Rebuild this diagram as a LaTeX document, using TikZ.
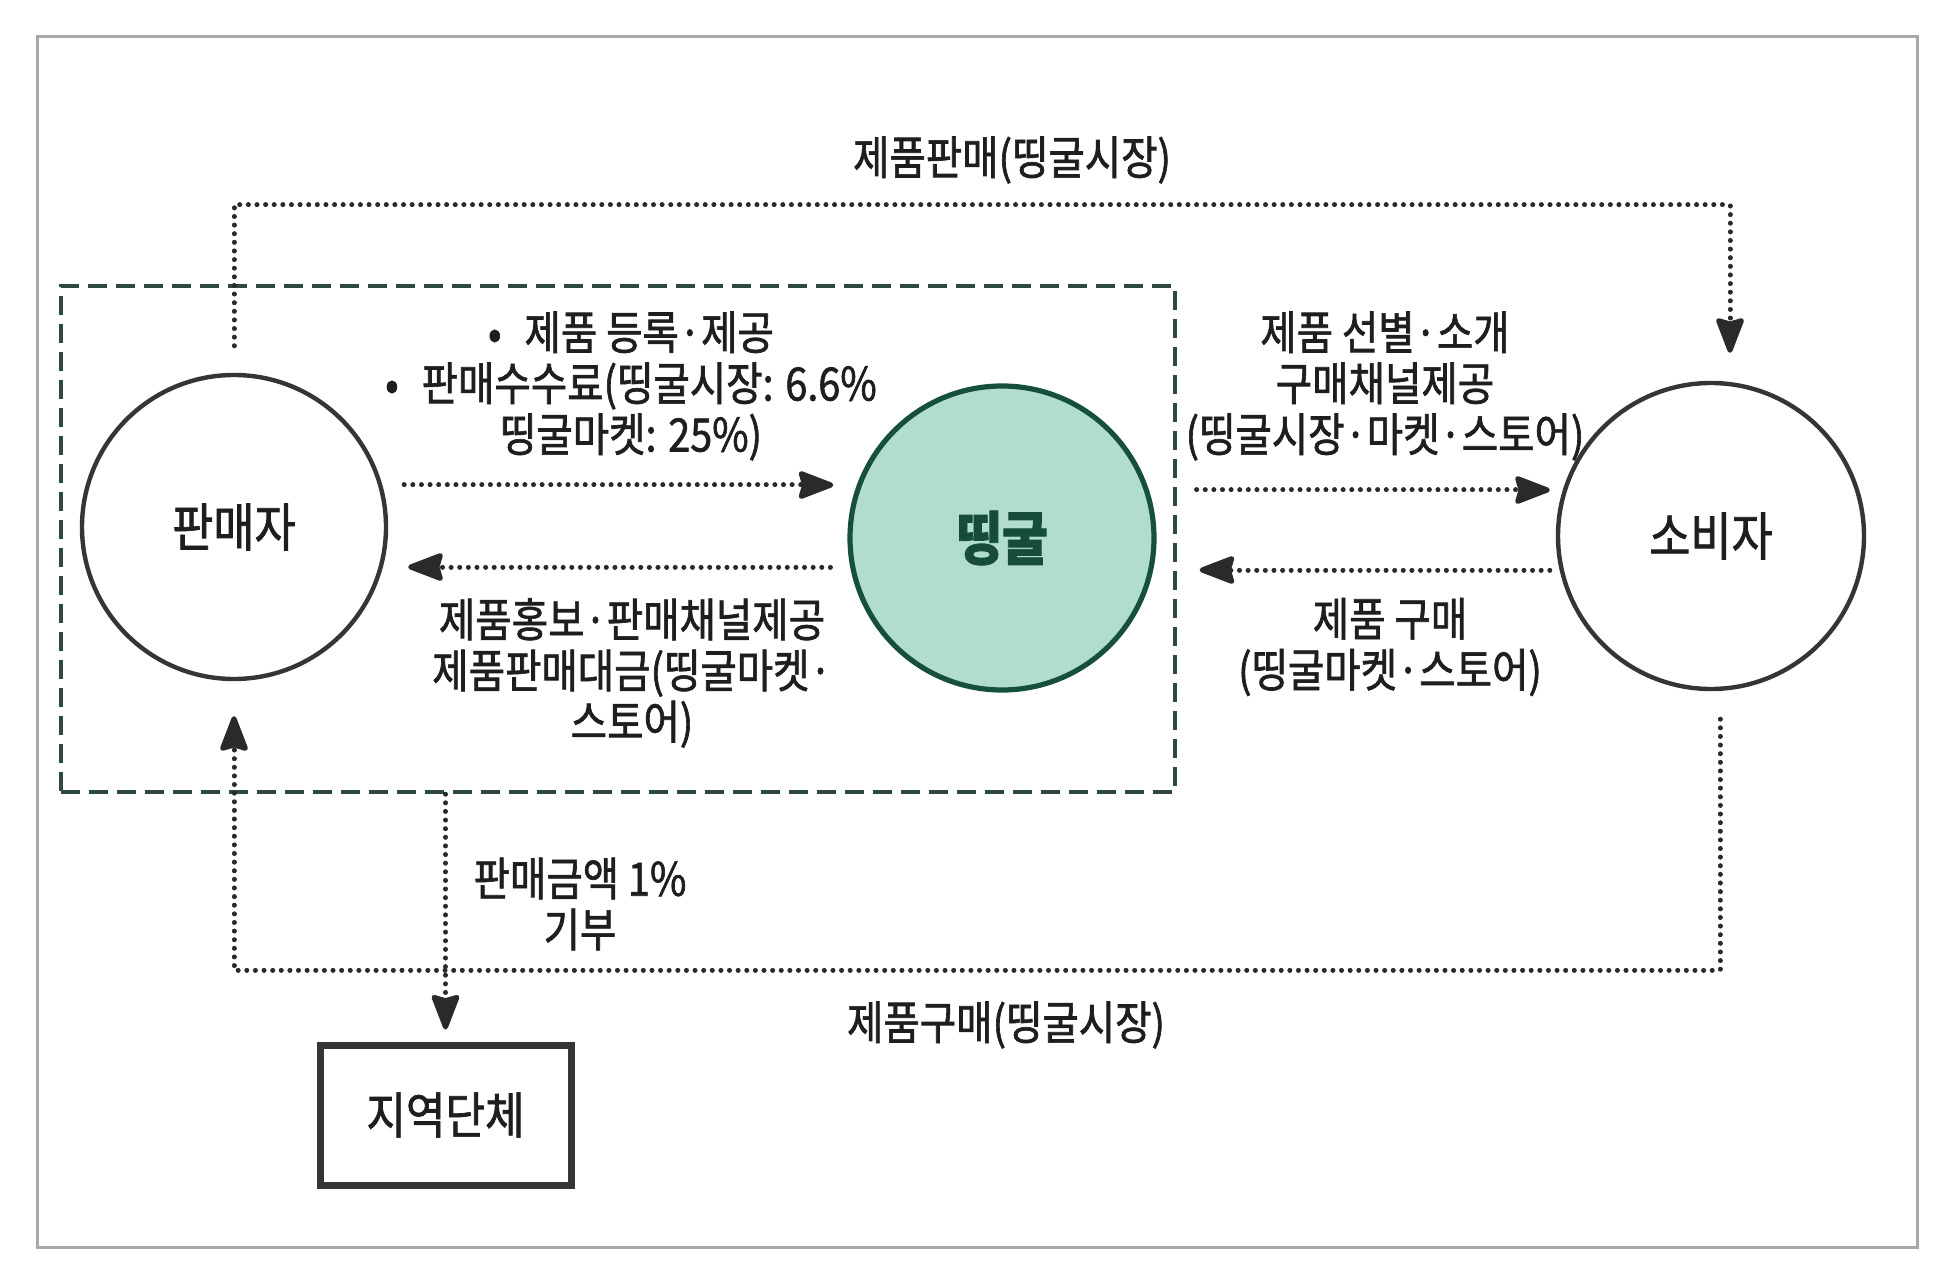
\documentclass[tikz,border=0pt]{standalone}
\usepackage{fontspec}
\setmainfont{Noto Sans CJK KR}[FakeStretch=0.86,FakeBold=1.4]
\usetikzlibrary{arrows.meta,calc}
\definecolor{txt}{HTML}{1E1E1E}
\definecolor{stroke}{HTML}{353535}
\definecolor{dotc}{HTML}{2A2A2A}
\definecolor{dingfill}{HTML}{B0DDD0}
\definecolor{dingline}{HTML}{16503D}
\definecolor{dingtext}{HTML}{174C3C}
\definecolor{grpc}{HTML}{2E4A40}
\definecolor{framec}{HTML}{A8A8A8}
\tikzset{
  lbl/.style={align=center, font=\fontsize{23}{25.5}\selectfont, text=txt, inner sep=0pt},
  actor/.style={circle, draw=stroke, line width=2.2pt, fill=white, inner sep=0pt,
    font=\fontsize{26}{28}\selectfont, text=txt},
  dingnode/.style={circle, draw=dingline, line width=2.6pt, fill=dingfill, inner sep=0pt,
    font=\fontsize{29}{31}\selectfont\bfseries, text=dingtext},
  orgbox/.style={rectangle, draw=stroke, line width=3.5pt, fill=white, inner sep=0pt,
    minimum width=125.5pt, minimum height=70pt, font=\fontsize{25}{27}\selectfont, text=txt},
  grpbox/.style={rectangle, draw=grpc, line width=2.2pt, dash pattern=on 9.5pt off 4.5pt, inner sep=0pt},
  flow/.style={draw=dotc, line width=2.5pt, line cap=round, dash pattern=on 0.01pt off 4.3pt,
    -{Stealth[length=20pt,width=15pt,inset=2pt,round=false,line cap=butt]}}
}
\begin{document}
\begin{tikzpicture}[x=0.5pt,y=-0.5pt]
\useasboundingbox (0,0) rectangle (1955,1278);
\fill[white] (0,0) rectangle (1955,1278);
\draw[framec, line width=1.5pt] (37,37) rectangle (1917,1247);

% group box
\node[grpbox, minimum width=557pt, minimum height=253pt] (grp) at (618,539) {};

% actors
\node[actor, minimum size=152pt] (seller) at (234,527) {판매자};
\node[dingnode, minimum size=152pt] (ding) at (1002,538) {띵굴};
\node[actor, minimum size=153pt] (consumer) at (1711,536) {소비자};
\node[orgbox] (org) at (445.5,1115) {지역단체};

% helper coordinates
\coordinate (r1) at (0,485);
\coordinate (r2) at (0,567);
\coordinate (r3) at (0,490);
\coordinate (r4) at (0,570);
\coordinate (tr) at (1730,205);
\coordinate (br) at (1720,970);
\coordinate (dx) at (445.5,0);

% horizontal flows
\draw[flow, shorten <=8pt, shorten >=7pt] (seller.east |- r1) -- (ding.west |- r1);
\draw[flow, shorten <=8.5pt, shorten >=10pt] (ding.west |- r2) -- (seller.east |- r2);
\draw[flow, shorten <=20pt, shorten >=3pt] (ding.east |- r3) -- (consumer.west |- r3);
\draw[flow, shorten <=3pt, shorten >=21.5pt] (consumer.west |- r4) -- (ding.east |- r4);

% top loop: seller -> consumer
\draw[flow, shorten <=13.5pt, shorten >=14pt] (seller.north) |- (tr) -- (consumer.north -| tr);
% bottom loop: consumer -> seller
\draw[flow, shorten <=14pt, shorten >=17.5pt] (consumer.south -| br) -- (br) -| (seller.south);
% donation
\draw[flow, shorten >=6pt] (grp.south -| dx) -- (org.north);

% labels
\node[lbl] (tl1) at (1012,160) {제품판매(띵굴시장)};
\node[lbl] (tl2) at (1006,1025) {제품구매(띵굴시장)};
\node[lbl] (la) at (631,386) {•\hspace{0.5em}제품 등록·제공\\•\hspace{0.5em}판매수수료(띵굴시장: 6.6\%\\띵굴마켓: 25\%)};
\node[lbl] (lb) at (632,673) {제품홍보·판매채널제공\\제품판매대금(띵굴마켓·\\스토어)};
\node[lbl] (ra) at (1385,386) {제품 선별·소개\\구매채널제공\\(띵굴시장·마켓·스토어)};
\node[lbl] (rb) at (1390,647) {제품 구매\\(띵굴마켓·스토어)};
\node[lbl] (dn) at (580,904) {판매금액 1\%\\기부};
\end{tikzpicture}
\end{document}
